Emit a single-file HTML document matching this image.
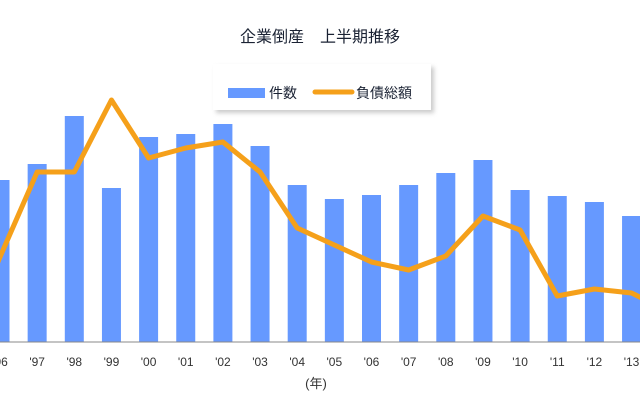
<!DOCTYPE html>
<html><head><meta charset="utf-8"><style>
body{margin:0;background:#fff;width:640px;height:400px;overflow:hidden;font-family:"Liberation Sans","Noto Sans CJK JP",sans-serif}
</style></head><body>
<svg id="chart" width="640" height="400" xmlns="http://www.w3.org/2000/svg">
<text x="320" y="42" text-anchor="middle" font-size="16" fill="#1a2233" font-family="Liberation Sans, Noto Sans CJK JP, sans-serif">企業倒産　上半期推移</text>
<g>
<rect x="216" y="67" width="218" height="46" fill="#999" opacity="0.5" filter="blur(2px)"/>
<rect x="213" y="64" width="218" height="46" fill="#fff"/>
<rect x="228" y="88" width="37" height="10" fill="#6699ff"/>
<text x="269" y="98" font-size="14" fill="#1a2233" font-family="Liberation Sans, Noto Sans CJK JP, sans-serif">件数</text>
<line x1="315" y1="92" x2="352" y2="92" stroke="#f5a01a" stroke-width="5" stroke-linecap="round"/>
<text x="356" y="98" font-size="14" fill="#1a2233" font-family="Liberation Sans, Noto Sans CJK JP, sans-serif">負債総額</text>
</g>
<g id="bars"></g>
<line x1="0" y1="342" x2="640" y2="342" stroke="#888" stroke-width="1"/>
<g id="line"></g>
<g id="labels"></g>
<text x="316" y="388" text-anchor="middle" font-size="13" fill="#333" font-family="Liberation Sans, Noto Sans CJK JP, sans-serif">(年)</text>
</svg>
<script>
const categories=["'96","'97","'98","'99","'00","'01","'02","'03","'04","'05","'06","'07","'08","'09","'10","'11","'12","'13"];
const counts=[162,178,226,154,205,208,218,196,157,143,147,157,169,182,152,146,140,126];
const debt=[85,170,170,242,184,194,200,170,114,97,80,72,86,126,112,46,53,49];
const NS="http://www.w3.org/2000/svg";
const base=342, step=37.15, x0=0, bw=19;
function xScale(i){return x0+step*i;}
function yCount(v){return base-v;}
function yDebt(v){return base-v;}
const bars=document.getElementById('bars');
counts.forEach((v,i)=>{
 const r=document.createElementNS(NS,'rect');
 
 
 r.setAttribute('x',xScale(i)-bw/2);r.setAttribute('y',yCount(v));
 r.setAttribute('width',bw);r.setAttribute('height',base-yCount(v));
 r.setAttribute('fill','#6699ff');bars.appendChild(r);
});
const pts=debt.map((v,i)=>xScale(i)+','+yDebt(v));
pts.push('660,'+(yDebt(debt[debt.length-1])+14));
const pl=document.createElementNS(NS,'polyline');


pl.setAttribute('points',(xScale(-0.4))+','+(yDebt(debt[0])+35)+' '+pts.join(' '));
pl.setAttribute('fill','none');pl.setAttribute('stroke','#f5a01a');pl.setAttribute('stroke-width','5');pl.setAttribute('stroke-linejoin','round');
document.getElementById('line').appendChild(pl);
const lab=document.getElementById('labels');
categories.forEach((c,i)=>{
 const t=document.createElementNS(NS,'text');
 
 
 t.setAttribute('x',xScale(i));t.setAttribute('y',366);
 t.setAttribute('text-anchor','middle');t.setAttribute('font-size','12');t.setAttribute('fill','#333');
 t.textContent=c;lab.appendChild(t);
});
</script>
</body></html>
